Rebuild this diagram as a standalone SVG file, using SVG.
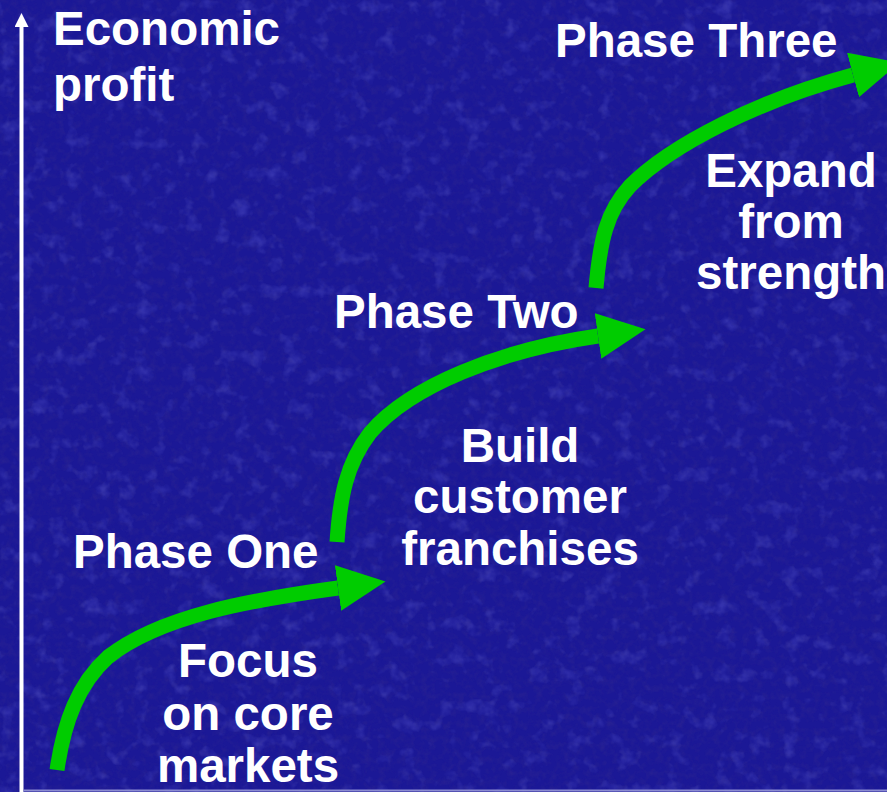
<svg xmlns="http://www.w3.org/2000/svg" width="887" height="792" viewBox="0 0 887 792">
  <style>
    .label { font-family: "Liberation Sans", Arial, sans-serif; font-weight: bold; font-size: 47.5px; fill: #ffffff; }
    .mid { text-anchor: middle; }
    .step { fill: none; stroke: #00cc00; stroke-width: 15; stroke-linecap: butt; marker-end: url(#head); }
  </style>
  <defs>
    <!-- fine mottled texture for the backdrop -->
    <filter id="grain" x="0" y="0" width="100%" height="100%">
      <feTurbulence type="fractalNoise" baseFrequency="0.14" numOctaves="3" seed="7" result="n"/>
      <feColorMatrix in="n" type="matrix" values="0 0 0 0 0.03  0 0 0 0 0.02  0 0 0 0 0.28  2.0 0 0 0 -0.85" result="dark"/>
      <feTurbulence type="fractalNoise" baseFrequency="0.06" numOctaves="3" seed="3" result="m"/>
      <feColorMatrix in="m" type="matrix" values="0 0 0 0 0.16  0 0 0 0 0.16  0 0 0 0 0.78  0 1.4 0 0 -0.78" result="light"/>
      <feMerge>
        <feMergeNode in="dark"/>
        <feMergeNode in="light"/>
      </feMerge>
    </filter>
    <marker id="head" markerUnits="userSpaceOnUse" viewBox="0 0 48 46" refX="0" refY="23" markerWidth="48" markerHeight="46" orient="auto">
      <path d="M0,0 L48,23 L0,46 Z" fill="#00cc00"/>
    </marker>
    <marker id="axisHead" markerUnits="userSpaceOnUse" viewBox="0 0 14 14" refX="0" refY="7" markerWidth="14" markerHeight="14" orient="auto">
      <path d="M0,0 L14,7 L0,14 Z" fill="#ffffff"/>
    </marker>
  </defs>

  <!-- backdrop -->
  <rect width="887" height="792" fill="#1b1896"/>
  <rect width="887" height="792" filter="url(#grain)" opacity="0.55"/>

  <!-- axes -->
  <g id="axis">
    <line x1="21.5" y1="792" x2="21.5" y2="27" stroke="#ffffff" stroke-width="4" marker-end="url(#axisHead)"/>
    <line x1="24" y1="790.5" x2="887" y2="790.5" stroke="#8c8cd2" stroke-width="2"/>
  </g>
  <g id="axis-label">
    <text class="label" x="53" y="45">Economic</text>
    <text class="label" x="53" y="101">profit</text>
  </g>

  <!-- rising steps -->
  <g id="connectors">
    <path class="step" d="M57,770 C64,722 78,684 108,657 C160,616 250,600 338,588"/>
    <path class="step" d="M337,542 C340,498 346,464 370,433 C410,386 500,350 598,336"/>
    <path class="step" d="M596,288 C600,242 606,212 630,186 C672,144 760,100 853,75"/>
  </g>

  <g id="phase-one">
    <text class="label" x="73" y="568">Phase One</text>
    <text class="label mid" x="248" y="677">Focus</text>
    <text class="label mid" x="248" y="730">on core</text>
    <text class="label mid" x="248" y="782">markets</text>
  </g>

  <g id="phase-two">
    <text class="label" x="334" y="328">Phase Two</text>
    <text class="label mid" x="520" y="462">Build</text>
    <text class="label mid" x="520" y="513">customer</text>
    <text class="label mid" x="520" y="565">franchises</text>
  </g>

  <g id="phase-three">
    <text class="label" x="555" y="57">Phase Three</text>
    <text class="label mid" x="791" y="187">Expand</text>
    <text class="label mid" x="791" y="238">from</text>
    <text class="label mid" x="791" y="289">strength</text>
  </g>
</svg>
